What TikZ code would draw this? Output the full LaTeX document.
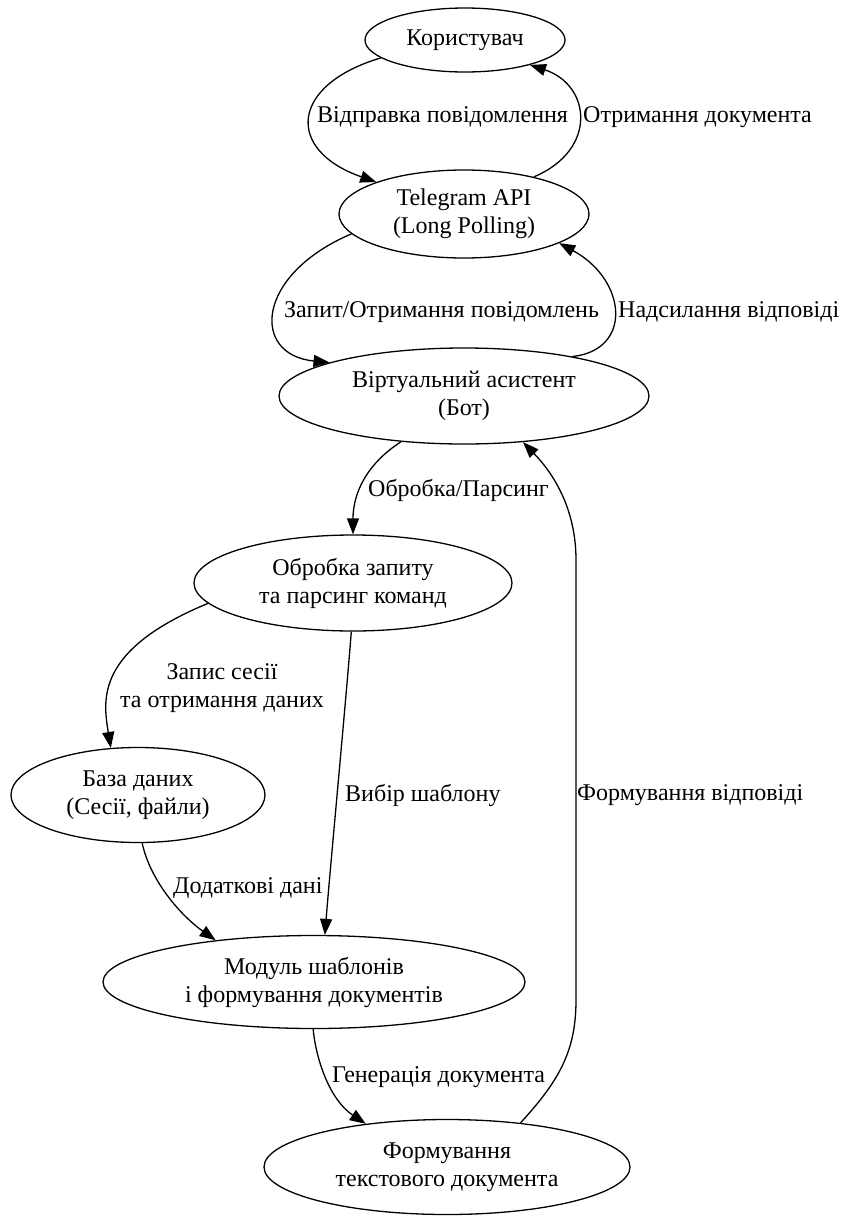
\documentclass[tikz,border=0pt]{standalone}
\usepackage{fontspec}
\setmainfont{Liberation Serif}
\usetikzlibrary{shapes.geometric,arrows.meta}

\begin{document}
\begin{tikzpicture}[x=1pt,y=-1pt,
  every node/.style={font=\fontsize{24}{28}\selectfont},
  box/.style={draw, ellipse, inner sep=0pt, align=center, line width=1.3pt},
  flow/.style={draw, line width=1.3pt, -{Triangle[length=16pt,width=12pt]}},
  lbl/.style={anchor=west, inner sep=0pt, align=center}]

\useasboundingbox (0,0) rectangle (845,1216);

% nodes
\node[box, minimum width=200pt, minimum height=64pt] (user) at (465,40) {Користувач};
\node[box, minimum width=250pt, minimum height=88pt] (tg) at (464,214) {Telegram API\\(Long Polling)};
\node[box, minimum width=370pt, minimum height=96pt] (bot) at (464,396) {Віртуальний асистент\\(Бот)};
\node[box, minimum width=318pt, minimum height=96pt] (proc) at (353,583) {Обробка запиту\\та парсинг команд};
\node[box, minimum width=254pt, minimum height=95pt] (db) at (138,795) {База даних\\(Сесії, файли)};
\node[box, minimum width=422pt, minimum height=93pt] (tpl) at (314,982) {Модуль шаблонів\\і формування документів};
\node[box, minimum width=366pt, minimum height=95pt] (doc) at (447,1167) {Формування\\текстового документа};

% connectors
\path[flow] (user.192) .. controls (290,85) and (285,150) .. (tg.160);
\path[flow] (tg.28) .. controls (598,150) and (591,85) .. (user.-21);
\path[flow] (tg.190) .. controls (255,275) and (251,355) .. (bot.166);
\path[flow] (bot.20) .. controls (633,350) and (627,280) .. (tg.-17);
\path[flow] (bot.216) .. controls (365,465) and (353,495) .. (proc.north);
\path[flow] (proc.188) .. controls (95,650) and (103,700) .. (db.120);
\path[flow] (proc.268) .. controls (346,700) and (330,870) .. (tpl.77);
\path[flow] (db.275) .. controls (150,880) and (180,915) .. (tpl.157);
\path[flow] (tpl.269) .. controls (316,1060) and (330,1100) .. (doc.152);
\path[flow] (doc.31) .. controls (560,1080) and (576,1050) .. (576,1000)
  -- (576,560) .. controls (576,500) and (545,465) .. (bot.-38);

% connector labels
\node[lbl] (l1) at (317,117) {Відправка повідомлення};
\node[lbl] (l2) at (583,117) {Отримання документа};
\node[lbl] (l3) at (284,312) {Запит/Отримання повідомлень};
\node[lbl] (l4) at (618,312) {Надсилання відповіді};
\node[lbl] (l5) at (368,490) {Обробка/Парсинг};
\node[align=center, inner sep=0pt] (l6) at (222,688) {Запис сесії\\та отримання даних};
\node[lbl] (l7) at (345,795) {Вибір шаблону};
\node[lbl] (l8) at (577,795) {Формування відповіді};
\node[lbl] (l9) at (173,888) {Додаткові дані};
\node[lbl] (l10) at (332,1077) {Генерація документа};
\end{tikzpicture}
\end{document}
